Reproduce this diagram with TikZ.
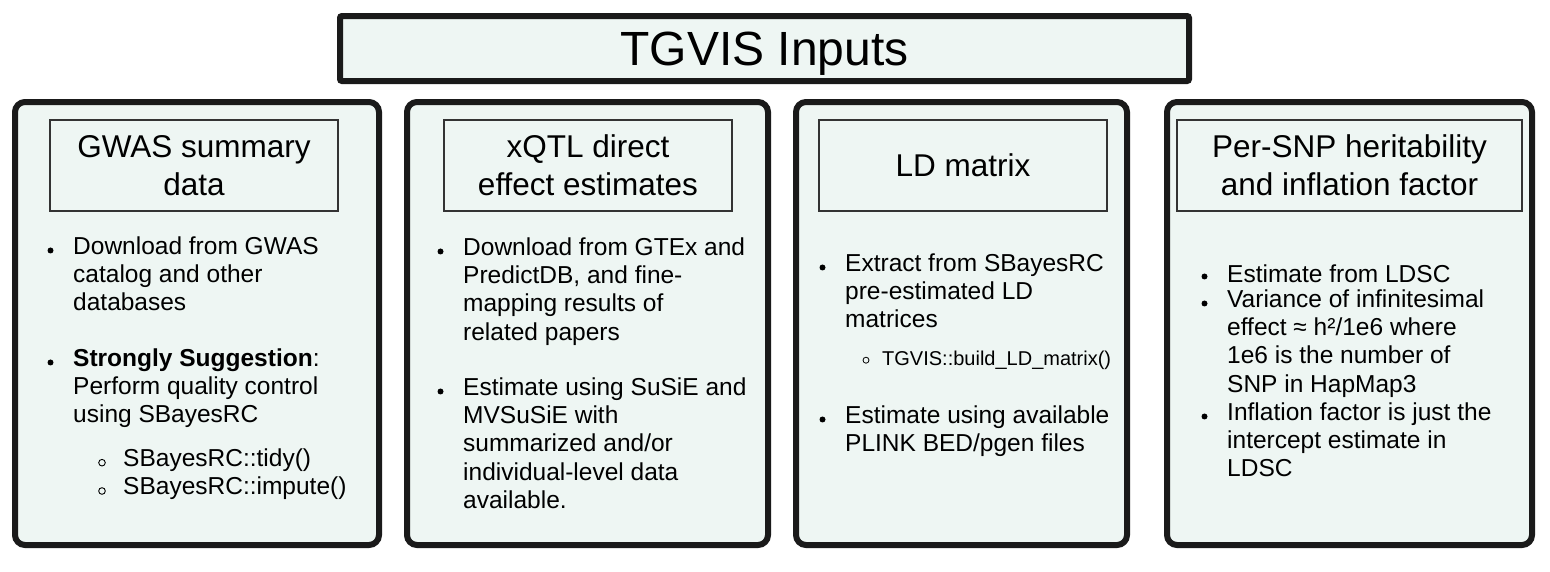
\documentclass[tikz,border=0pt]{standalone}
\usepackage{fontspec}
\setmainfont{Liberation Sans}
\definecolor{mint}{RGB}{238,246,243}
\definecolor{edge}{RGB}{26,26,26}

\tikzstyle{banner} = [draw=edge, fill=mint, line width=6pt, rounded corners=2pt, minimum width=849pt, minimum height=65pt, text height=35pt, text depth=2pt, font=\fontsize{48}{58}\selectfont]
\tikzstyle{panel} = [draw=edge, fill=mint, line width=6pt, rounded corners=10pt, minimum height=443pt]
\tikzstyle{heading} = [draw=black!80, line width=2pt, minimum width=288pt, minimum height=91pt, align=center, font=\fontsize{31.5}{38}\selectfont]
\tikzstyle{item} = [anchor=north west, inner sep=0pt, align=left, yshift=19.81pt, execute at begin node=\strut, font=\fontsize{24.5}{28.3}\selectfont]
\tikzstyle{smallitem} = [item, yshift=-3.01pt, font=\fontsize{20}{24}\selectfont]

\begin{document}
\begin{tikzpicture}[x=1pt, y=-1pt]
  \useasboundingbox (0,0) rectangle (1550,571);

  \node [banner] (title) at (764.5,48.5) {TGVIS Inputs};

  % four input panels
  \node [panel, minimum width=364pt] (gwas) at (197,323.5) {};
  \node [panel, minimum width=361pt] (xqtl) at (587.5,323.5) {};
  \node [panel, minimum width=331pt] (ld) at (961.5,323.5) {};
  \node [panel, minimum width=365pt] (herit) at (1349.5,323.5) {};

  \node [heading] (gwashead) at (194,165.5) {GWAS summary\\data};
  \node [heading] (xqtlhead) at (588,165.5) {xQTL direct\\effect estimates};
  \node [heading] (ldhead) at (963,165.5) {LD matrix};
  \node [heading, minimum width=345pt] (herithead) at (1349.5,165.5) {Per-SNP heritability\\and inflation factor};

  % GWAS summary data
  \node [item] (g1) at (73,256) {Download from GWAS\\catalog and other\\databases};
  \node [item] (g2) at (73,368) {\textbf{Strongly Suggestion}:\\Perform quality control\\using SBayesRC};
  \node [item] (g3) at (123,468) {SBayesRC::tidy()\\SBayesRC::impute()};

  % xQTL
  \node [item] (q1) at (463,257) {Download from GTEx and\\PredictDB, and fine-\\mapping results of\\related papers};
  \node [item] (q2) at (463,397) {Estimate using SuSiE and\\MVSuSiE with\\summarized and/or\\individual-level data\\available.};

  % LD matrix
  \node [item] (l1) at (845,273) {Extract from SBayesRC\\pre-estimated LD\\matrices};
  \node [smallitem] (l2) at (882,365) {TGVIS::build\_LD\_matrix()};
  \node [item] (l3) at (845,425) {Estimate using available\\PLINK BED/pgen files};

  % heritability
  \node [item] (h1) at (1227,282) {Estimate from LDSC};
  \node [item] (h2) at (1227,309) {Variance of infinitesimal\\effect ≈ h²/1e6 where\\1e6 is the number of\\SNP in HapMap3};
  \node [item] (h3) at (1227,422) {Inflation factor is just the\\intercept estimate in\\LDSC};

  \foreach \n in {g1,g2,q1,q2,l1,l3,h1,h2,h3}
    \fill (\n.north west) ++(-22.5,14.3) circle (3pt);
  \foreach \dy in {14.5,42.8}
    \draw [line width=0.9pt] (g3.north west) ++(-21,\dy) circle (3.3pt);
  \draw [line width=0.8pt] (l2.north west) ++(-16,12) circle (3pt);
\end{tikzpicture}
\end{document}
